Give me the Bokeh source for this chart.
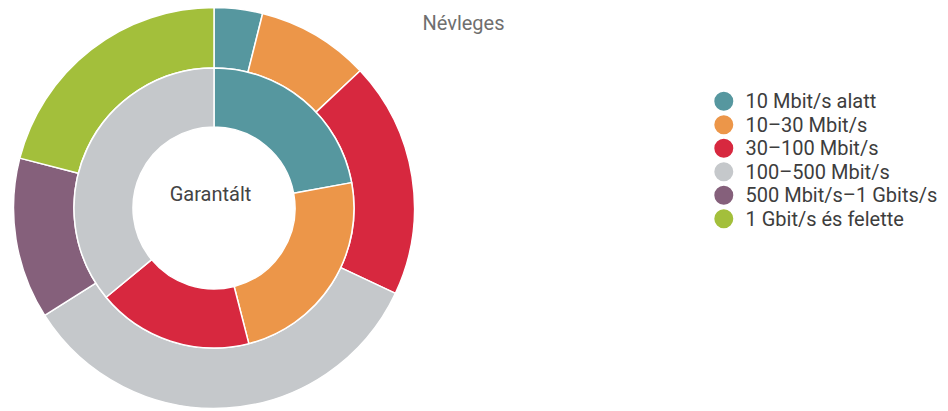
import numpy as np
from bokeh.plotting import figure
from bokeh.models import Range1d, ColumnDataSource
from bokeh.core.properties import value
from bokeh.embed import file_html
from bokeh.resources import INLINE

categories = ["10 Mbit/s alatt", "10–30 Mbit/s", "30–100 Mbit/s",
              "100–500 Mbit/s", "500 Mbit/s–1 Gbits/s", "1 Gbit/s és felette"]
colors = ["#56979f", "#ec9649", "#d7283f", "#c5c8cb", "#85607b", "#a3bf3b"]
nominal = [3.9, 9.1, 19.0, 34.0, 13.0, 21.0]      # outer ring: Névleges
guaranteed = [22.1, 23.9, 18.0, 36.0, 0.0, 0.0]  # inner ring: Garantált

W, H = 948, 411
p = figure(width=W, height=H, output_backend="svg", toolbar_location=None,
           x_range=Range1d(0, W), y_range=Range1d(0, H), min_border=0,
           background_fill_color="white", border_fill_color="white")
p.axis.visible = False
p.grid.visible = False
p.outline_line_color = None

cx, cy = 213.5, 203.5
r_hole, r_mid, r_out = 81, 140, 200.5

def ring(vals, rin, rout):
    v = np.array(vals, dtype=float)
    frac = v / v.sum()
    c1 = np.cumsum(frac)
    c0 = c1 - frac
    keep = v > 0
    src = ColumnDataSource(dict(
        start=(np.pi / 2 - 2 * np.pi * c1)[keep],
        end=(np.pi / 2 - 2 * np.pi * c0)[keep],
        color=np.array(colors)[keep].tolist()))
    p.annular_wedge(x=cx, y=cy, inner_radius=rin, outer_radius=rout,
                    start_angle="start", end_angle="end", direction="anticlock",
                    fill_color="color", line_color="white", line_width=1.5,
                    source=src)

ring(nominal, r_mid, r_out)
ring(guaranteed, r_hole, r_mid)

p.text(x=[463], y=[389], text=["Névleges"], text_font=value("Roboto"),
       text_font_size="20px", text_color="#6f6f6f", text_align="center",
       text_baseline="middle")
p.text(x=[210], y=[218], text=["Garantált"], text_font=value("Roboto"),
       text_font_size="20px", text_color="#444444", text_align="center",
       text_baseline="middle")

# legend
idx = np.arange(len(categories))
ly = 310.3 - 23.5 * idx
p.scatter(x=723.3, y=ly, size=19, marker="circle", fill_color=colors,
          line_color=None)
p.text(x=745, y=ly, text=categories, text_font=value("Roboto"),
       text_font_size="20px", text_color="#3d3d3d", text_align="left",
       text_baseline="middle")

open("out.html", "w").write(file_html(p, INLINE))
